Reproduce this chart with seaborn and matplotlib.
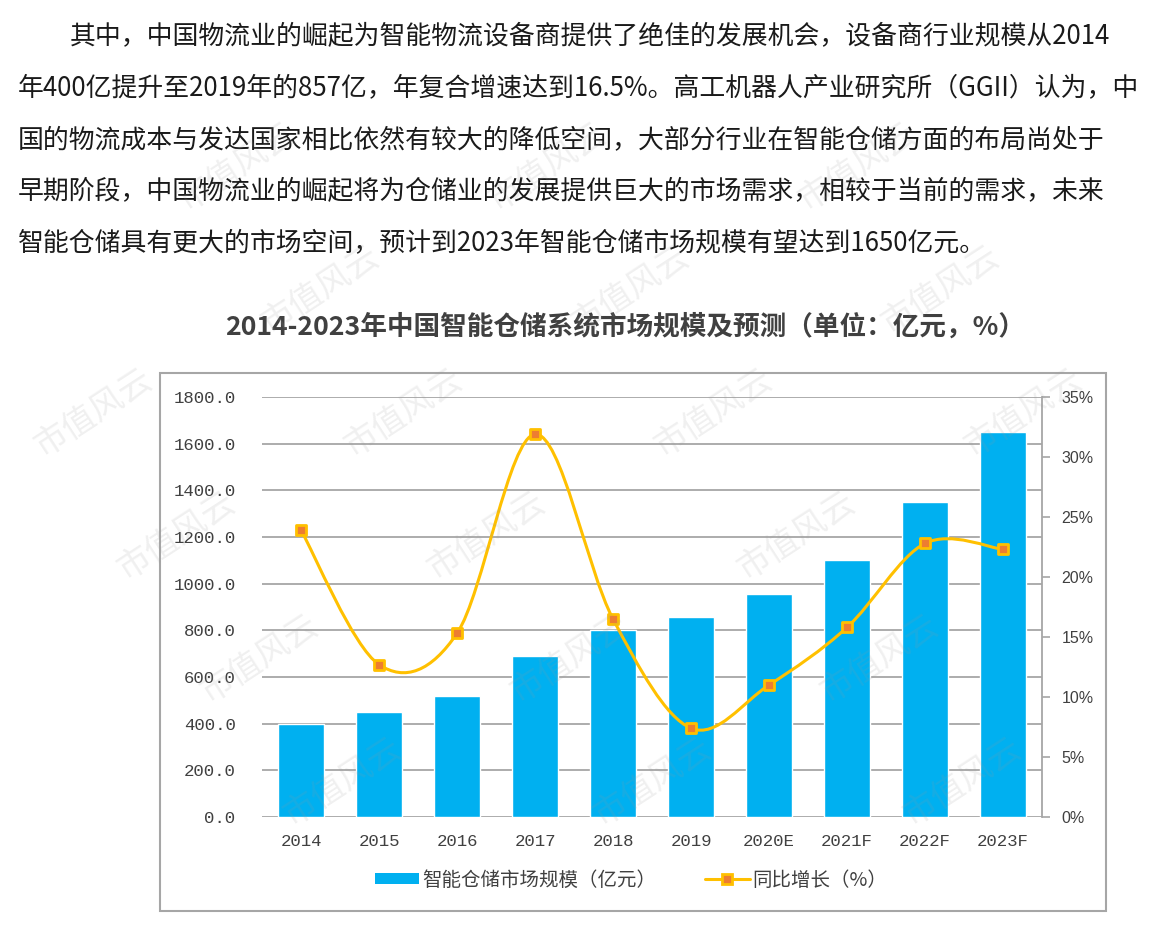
import numpy as np
import pandas as pd
import matplotlib
matplotlib.use("Agg")
import matplotlib.pyplot as plt
import seaborn as sns
from matplotlib.path import Path
from matplotlib.patches import PathPatch, Patch, Rectangle
from matplotlib.lines import Line2D

# data
years = ['2014', '2015', '2016', '2017', '2018', '2019', '2020E', '2021F', '2022F', '2023F']
market_size = [400, 450, 520, 690, 800, 857, 955, 1100, 1350, 1650]
growth_pct = [23.9, 12.7, 15.3, 31.9, 16.5, 7.4, 11.0, 15.8, 22.8, 22.3]

size_ticks = [0, 200, 400, 600, 800, 1000, 1200, 1400, 1600, 1800]
pct_ticks = [0, 5, 10, 15, 20, 25, 30, 35]

intro_lines = [
    '其中，中国物流业的崛起为智能物流设备商提供了绝佳的发展机会，设备商行业规模从2014',
    '年400亿提升至2019年的857亿，年复合增速达到16.5%。高工机器人产业研究所（GGII）认为，中',
    '国的物流成本与发达国家相比依然有较大的降低空间，大部分行业在智能仓储方面的布局尚处于',
    '早期阶段，中国物流业的崛起将为仓储业的发展提供巨大的市场需求，相较于当前的需求，未来',
    '智能仓储具有更大的市场空间，预计到2023年智能仓储市场规模有望达到1650亿元。',
]
title = '2014-2023年中国智能仓储系统市场规模及预测（单位：亿元，%）'
bar_label = '智能仓储市场规模（亿元）'
line_label = '同比增长（%）'
watermark = '市值风云'

bar_color = '#00B0F0'
line_color = '#FFC000'
marker_color = '#ED7D31'
grid_color = '#A6A6A6'
text_color = '#404040'

sns.set_theme(style='white')
plt.rcParams['font.family'] = ['Noto Sans CJK SC', 'DejaVu Sans']

W, H = 1153, 946
fig = plt.figure(figsize=(W / 100, H / 100), dpi=100)


def fx(x):
    return x / W


def fy(y):
    return 1 - y / H


# paragraph above the chart
line_y = [37, 88, 140, 191, 243]
for i, (txt, y) in enumerate(zip(intro_lines, line_y)):
    fig.text(fx(70 if i == 0 else 18), fy(y), txt, fontsize=18.6, color='#1a1a1a',
             va='center', ha='left')

# chart title
fig.text(fx(625), fy(327), title, fontsize=19.2, fontweight='bold',
         color=text_color, ha='center', va='center')

# chart frame
fig.add_artist(Rectangle((fx(160), fy(911)), fx(1106) - fx(160), fy(373) - fy(911),
                         transform=fig.transFigure, fill=False,
                         edgecolor=grid_color, lw=1.5))

df = pd.DataFrame({'year': years, 'size': market_size, 'growth': growth_pct})

ax = fig.add_axes([fx(262), fy(817), fx(1042) - fx(262), (817 - 397) / H])
sns.barplot(data=df, x='year', y='size', color=bar_color, saturation=1,
            width=0.6, ax=ax, zorder=2)
ax.set_ylim(0, 1800)
ax.set_yticks(size_ticks)
ax.set_yticklabels([f'{v:.1f}' for v in size_ticks], fontfamily='Liberation Mono',
                   fontsize=12.5, color=text_color)
ax.set_xticks(range(len(years)))
ax.set_xticklabels(years, fontfamily='Liberation Mono', fontsize=12.5, color=text_color)
ax.tick_params(axis='x', length=0, pad=12)
ax.tick_params(axis='y', length=0, pad=19)
ax.yaxis.grid(True, color=grid_color, lw=1.3)
ax.set_axisbelow(True)
for s in ax.spines.values():
    s.set_visible(False)
ax.set_xlabel('')
ax.set_ylabel('')

# growth rate on the right axis, drawn as a smoothed (Bezier) line like Excel
ax2 = ax.twinx()
ax2.set_ylim(0, 35)
xs = np.arange(len(years), dtype=float)
ys = np.array(growth_pct, dtype=float)
n = len(xs)
verts = [(xs[0], ys[0])]
codes = [Path.MOVETO]
for i in range(n - 1):
    p0 = np.array([xs[max(i - 1, 0)], ys[max(i - 1, 0)]])
    p1 = np.array([xs[i], ys[i]])
    p2 = np.array([xs[i + 1], ys[i + 1]])
    p3 = np.array([xs[min(i + 2, n - 1)], ys[min(i + 2, n - 1)]])
    c1 = p1 + (p2 - p0) / 6
    c2 = p2 - (p3 - p1) / 6
    verts += [tuple(c1), tuple(c2), tuple(p2)]
    codes += [Path.CURVE4] * 3
ax2.add_patch(PathPatch(Path(verts, codes), fill=False, edgecolor=line_color,
                        lw=2.2, zorder=3, capstyle='round'))
sns.scatterplot(data=df, x='year', y='growth', marker='s', s=45, color=marker_color,
                edgecolor=line_color, linewidth=2, ax=ax2, zorder=4, legend=False)
ax2.set_ylim(0, 35)
ax2.set_xlim(-0.5, len(years) - 0.5)
ax2.set_yticks(pct_ticks)
ax2.set_yticklabels([f'{v}%' for v in pct_ticks], fontfamily='Liberation Sans',
                    fontsize=11.5, color=text_color)
ax2.tick_params(axis='y', length=6, width=1.2, color=grid_color, pad=8, direction='out')
for name, s in ax2.spines.items():
    s.set_visible(name == 'right')
ax2.spines['right'].set_color(grid_color)
ax2.spines['right'].set_linewidth(1.3)
ax2.set_ylabel('')
ax2.set_xlabel('')

# legend
handles = [
    Patch(facecolor=bar_color, edgecolor='none', label=bar_label),
    Line2D([], [], color=line_color, lw=2.2, marker='s', markersize=7,
           markerfacecolor=marker_color, markeredgecolor=line_color,
           markeredgewidth=2, label=line_label),
]
fig.legend(handles=handles, loc='center', bbox_to_anchor=(fx(631), fy(880)),
           ncol=2, frameon=False, fontsize=14, handlelength=2.3, handleheight=0.5,
           handletextpad=0.15, columnspacing=2.5, labelcolor=text_color)

# watermark, kept only where it fits fully inside the picture
for j in range(-3, 5):
    for i in range(-2, 5):
        cx = 403 + 310 * i + 83 * j
        cy = 413 + 123 * j
        if 75 < cx < W - 75 and 60 < cy < H - 60:
            fig.text(fx(cx), fy(cy), watermark, fontsize=24, rotation=33,
                     color='#9a9a9a', alpha=0.15, ha='center', va='center',
                     zorder=10)

fig.savefig('out.png', dpi=100)
